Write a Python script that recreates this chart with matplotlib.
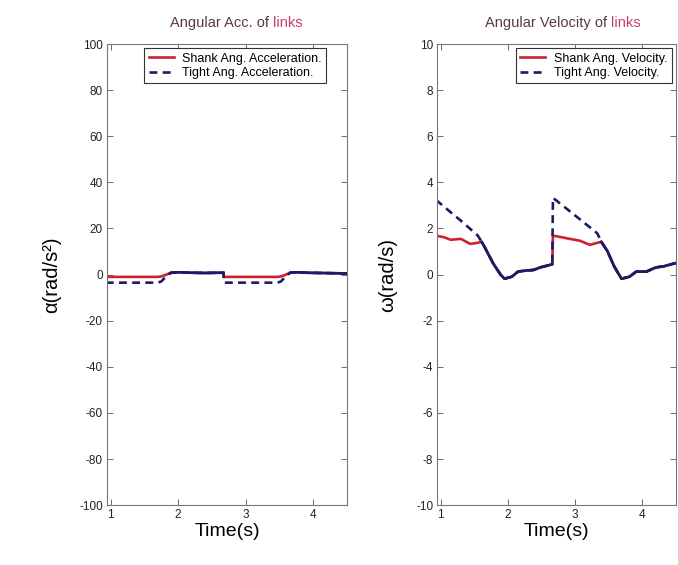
import numpy as np
import matplotlib
matplotlib.use("Agg")
import matplotlib.pyplot as plt

plt.rcParams['font.family'] = ['Liberation Sans', 'DejaVu Sans']
plt.rcParams['axes.unicode_minus'] = False

# ---------------- data ----------------
# Angular acceleration (rad/s^2)
t_acc = [0.93, 1.70, 1.75, 1.80, 1.85, 1.90, 2.00, 2.20, 2.40, 2.60, 2.67,
         2.68, 3.47, 3.52, 3.57, 3.62, 3.66, 3.75, 3.90, 4.10, 4.30, 4.50]
shank_acc = [-1.0, -1.0, -0.8, -0.3, 0.3, 0.8, 1.0, 0.8, 0.7, 0.8, 0.8,
             -1.0, -1.0, -0.8, -0.3, 0.3, 0.8, 1.0, 0.8, 0.7, 0.6, 0.5]
tight_acc = [-3.5, -3.5, -3.0, -1.5, 0.0, 0.8, 1.0, 0.8, 0.7, 0.8, 0.8,
             -3.5, -3.5, -3.0, -1.5, 0.0, 0.8, 1.0, 0.8, 0.7, 0.6, 0.5]

# Angular velocity (rad/s)
t_vel = [0.93, 1.05, 1.15, 1.30, 1.44, 1.55, 1.61, 1.66, 1.78, 1.89, 1.95,
         2.06, 2.15, 2.28, 2.38, 2.48, 2.60, 2.66,
         2.67, 2.80, 2.92, 3.07, 3.22, 3.33, 3.39, 3.48, 3.58, 3.69, 3.81,
         3.91, 4.06, 4.20, 4.32, 4.43, 4.50]
shank_vel = [1.69, 1.62, 1.51, 1.55, 1.33, 1.38, 1.42, 1.16, 0.49, 0.00, -0.18,
             -0.09, 0.13, 0.18, 0.20, 0.31, 0.40, 0.45,
             1.69, 1.62, 1.55, 1.47, 1.29, 1.38, 1.42, 1.02, 0.36, -0.18, -0.09,
             0.13, 0.13, 0.31, 0.36, 0.45, 0.50]
tight_vel = [3.24, 2.95, 2.70, 2.34, 1.98, 1.70, 1.42, 1.16, 0.49, 0.00, -0.18,
             -0.09, 0.13, 0.18, 0.20, 0.31, 0.40, 0.45,
             3.33, 3.03, 2.75, 2.40, 2.05, 1.79, 1.42, 1.02, 0.36, -0.18, -0.09,
             0.13, 0.13, 0.31, 0.36, 0.45, 0.50]

acc_yticks = list(range(-100, 101, 20))
vel_yticks = list(range(-10, 11, 2))
xticks = [1, 2, 3, 4]

RED = '#d02030'
NAVY = '#1c1c66'
TITLE_DARK = '#5a3844'
TITLE_PINK = '#c8406a'

fig = plt.figure(figsize=(6.78, 5.65), dpi=100, facecolor='white')

def panel(rect, t, shank, tight, ylim, yticks, ylabel, title_a, title_split,
          lab_s, lab_t, leg_anchor, ylabel_x):
    ax = fig.add_axes(rect)
    t = np.asarray(t); shank = np.asarray(shank); tight = np.asarray(tight)
    ax.plot(t, shank, color=RED, lw=1.9, label=lab_s, solid_joinstyle='round')
    ax.plot(t, tight, color=NAVY, lw=1.9, ls=(0, (3, 2)), label=lab_t)
    same = np.where(np.isclose(shank, tight), tight, np.nan)
    ax.plot(t, same, color=NAVY, lw=1.9, solid_joinstyle='round')
    ax.set_xlim(0.95, 4.5)
    ax.set_ylim(*ylim)
    ax.set_xticks(xticks)
    ax.set_yticks(yticks)
    ax.tick_params(direction='in', top=True, right=True, length=4, width=0.6,
                   colors='#555555', labelcolor='#222222', labelsize=8.5, pad=3)
    for s in ax.spines.values():
        s.set_color('#777777')
        s.set_linewidth(0.8)
    ax.set_xlabel('Time(s)', fontsize=14, labelpad=1)
    ax.set_ylabel(ylabel, fontsize=14.5)
    ax.yaxis.set_label_coords(ylabel_x, 0.5)
    t1 = ax.text(title_split, 1.03, title_a, transform=ax.transAxes,
                 ha='right', va='bottom', fontsize=10.5, color=TITLE_DARK)
    ax.annotate('links', xy=(1, 0), xycoords=t1, xytext=(3, 0),
                textcoords='offset points', ha='left', va='bottom',
                fontsize=10.5, color=TITLE_PINK)
    leg = ax.legend(loc='upper right', bbox_to_anchor=leg_anchor, fontsize=9,
                    fancybox=False, edgecolor='#333333', framealpha=1,
                    handlelength=2.0, borderpad=0.35, labelspacing=0.2,
                    handletextpad=0.7, borderaxespad=0)
    leg.get_frame().set_linewidth(0.8)
    return ax

panel([0.158, 0.106, 0.354, 0.816], t_acc, shank_acc, tight_acc,
      (-100, 100), acc_yticks, 'α(rad/s²)', 'Angular Acc. of', 0.675,
      'Shank Ang. Acceleration.', 'Tight Ang. Acceleration.',
      (0.9125, 0.991), -0.19)
panel([0.645, 0.106, 0.352, 0.816], t_vel, shank_vel, tight_vel,
      (-10, 10), vel_yticks, 'ω(rad/s)', 'Angular Velocity of', 0.71,
      'Shank Ang. Velocity.', 'Tight Ang. Velocity.',
      (0.983, 0.991), -0.17)

fig.savefig('out.png', dpi=100, facecolor='white')
